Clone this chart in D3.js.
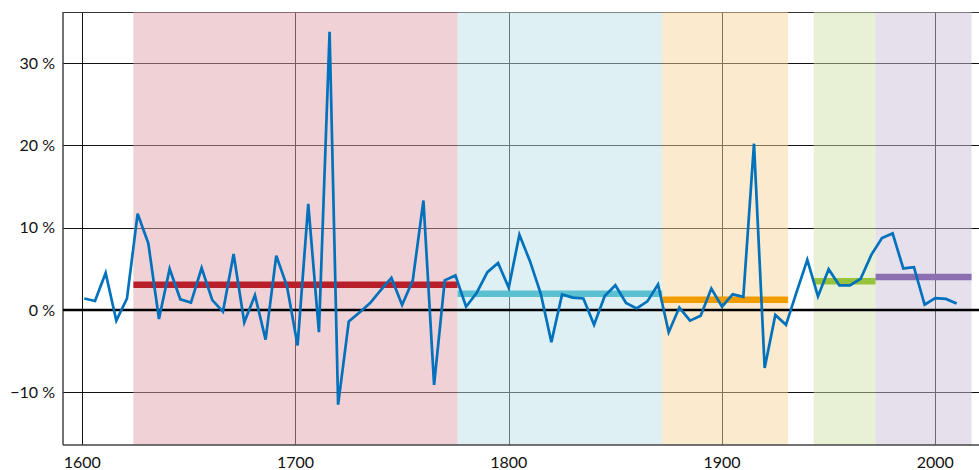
<!DOCTYPE html>
<html>
<head>
<meta charset="utf-8">
<script src="https://cdn.jsdelivr.net/npm/d3@7"></script>
<style>
  html, body { margin: 0; padding: 0; background: #fff; }
  svg { display: block; font-family: Lato, "Open Sans", sans-serif; }
</style>
</head>
<body>
<svg width="979" height="470"></svg>
<script>
// years of the data points (roughly every 5 years)
var years = [1601, 1606, 1611, 1616, 1621, 1626, 1631, 1636, 1641, 1646,
  1651, 1656, 1661, 1666, 1671, 1676, 1681, 1686, 1691, 1696,
  1701, 1706, 1711, 1716, 1720, 1725, 1730, 1735, 1740, 1745,
  1750, 1755, 1760, 1765, 1770, 1775, 1780, 1785, 1790, 1795,
  1800, 1805, 1810, 1815, 1820, 1825, 1830, 1835, 1840, 1845,
  1850, 1855, 1860, 1865, 1870, 1875, 1880, 1885, 1890, 1895,
  1900, 1905, 1910, 1915, 1920, 1925, 1930, 1935, 1940, 1945,
  1950, 1955, 1960, 1965, 1970, 1975, 1980, 1985, 1990, 1995,
  2000, 2005, 2010];

// growth rate in %
var values = [1.4, 1.1, 4.5, -1.3, 1.4, 11.7, 8.1, -1.1, 5.0, 1.3,
  0.9, 5.1, 1.2, -0.2, 6.8, -1.5, 1.8, -3.6, 6.6, 2.9,
  -4.3, 12.9, -2.7, 33.8, -11.5, -1.4, -0.3, 0.85, 2.4, 3.9,
  0.6, 3.6, 13.3, -9.1, 3.6, 4.2, 0.4, 2.1, 4.6, 5.7,
  2.7, 9.15, 5.9, 2.0, -3.9, 1.9, 1.5, 1.4, -1.8, 1.7,
  3.0, 0.85, 0.2, 1.05, 3.1, -2.7, 0.3, -1.3, -0.7, 2.6,
  0.4, 1.9, 1.6, 20.2, -7.05, -0.6, -1.8, 2.2, 6.1, 1.65,
  4.95, 3.0, 3.0, 3.8, 6.7, 8.75, 9.3, 5.05, 5.2, 0.65,
  1.45, 1.35, 0.8];

// shaded periods and their average
var bandStart = [1624, 1776, 1872, 1943, 1972];
var bandEnd   = [1776, 1872, 1931, 1972, 2017];
var bandMean  = [3.07, 1.98, 1.25, 3.48, 4.0];
var bandFill  = ["rgb(225,165,173)", "rgb(189,225,233)", "rgb(247,213,155)", "rgb(209,227,173)", "rgb(205,193,219)"];
var bandLine  = ["#b81f2b", "#5bc0d0", "#f39c00", "#97c23c", "#8c6fb0"];

var xTicks = [1600, 1700, 1800, 1900, 2000];
var yTicks = [-10, 0, 10, 20, 30];

var svg = d3.select("svg"),
    plotLeft = 63, plotRight = 979, plotTop = 12, plotBottom = 445;

var x = d3.scaleLinear().domain([1591, 2020.5]).range([plotLeft, plotRight]);
var y = d3.scaleLinear().domain([-16.4, 36.2]).range([plotBottom, plotTop]);

// grid
svg.append("g").selectAll("line")
  .data(yTicks.filter(function(d) { return d !== 0; }))
  .enter().append("line")
    .attr("x1", plotLeft).attr("x2", plotRight)
    .attr("y1", function(d) { return Math.round(y(d)) + 0.5; })
    .attr("y2", function(d) { return Math.round(y(d)) + 0.5; })
    .attr("stroke", "#111").attr("stroke-width", 1);

svg.append("g").selectAll("line")
  .data(xTicks)
  .enter().append("line")
    .attr("x1", function(d) { return Math.round(x(d)) + 0.5; })
    .attr("x2", function(d) { return Math.round(x(d)) + 0.5; })
    .attr("y1", plotTop).attr("y2", plotBottom)
    .attr("stroke", "#111").attr("stroke-width", 1);

// top border
svg.append("line")
  .attr("x1", plotLeft).attr("x2", plotRight)
  .attr("y1", plotTop + 0.5).attr("y2", plotTop + 0.5)
  .attr("stroke", "#333").attr("stroke-width", 1.2);

// period bands (semi transparent, so the grid shows through tinted)
svg.append("g").selectAll("rect")
  .data(bandStart)
  .enter().append("rect")
    .attr("x", function(d) { return x(d); })
    .attr("width", function(d, i) { return x(bandEnd[i]) - x(d); })
    .attr("y", plotTop).attr("height", plotBottom - plotTop)
    .attr("fill", function(d, i) { return bandFill[i]; })
    .attr("fill-opacity", 0.5);

// axes frame
svg.append("line")
  .attr("x1", plotLeft).attr("x2", plotLeft)
  .attr("y1", plotTop).attr("y2", plotBottom)
  .attr("stroke", "#444").attr("stroke-width", 1.5);
svg.append("line")
  .attr("x1", plotLeft).attr("x2", plotRight)
  .attr("y1", plotBottom).attr("y2", plotBottom)
  .attr("stroke", "#444").attr("stroke-width", 1.5);

// zero line
svg.append("line")
  .attr("x1", plotLeft).attr("x2", plotRight)
  .attr("y1", y(0)).attr("y2", y(0))
  .attr("stroke", "#000").attr("stroke-width", 2.4);

// period averages
svg.append("g").selectAll("line")
  .data(bandMean)
  .enter().append("line")
    .attr("x1", function(d, i) { return x(bandStart[i]); })
    .attr("x2", function(d, i) { return x(bandEnd[i]); })
    .attr("y1", function(d) { return y(d); })
    .attr("y2", function(d) { return y(d); })
    .attr("stroke", function(d, i) { return bandLine[i]; })
    .attr("stroke-width", 6.5);

// data line
var line = d3.line()
  .x(function(d, i) { return x(years[i]); })
  .y(function(d) { return y(d); });

svg.append("path")
  .datum(values)
  .attr("d", line)
  .attr("fill", "none")
  .attr("stroke", "#0071bc")
  .attr("stroke-width", 2.7);

// tick labels
svg.append("g").selectAll("text")
  .data(yTicks)
  .enter().append("text")
    .attr("x", 55)
    .attr("y", function(d) { return y(d); })
    .attr("dy", "0.36em")
    .attr("text-anchor", "end")
    .attr("font-size", 16)
    .attr("fill", "#111")
    .text(function(d) { return (d < 0 ? "\u2212" + (-d) : d) + " %"; });

svg.append("g").selectAll("text")
  .data(xTicks)
  .enter().append("text")
    .attr("x", function(d) { return x(d); })
    .attr("y", 468)
    .attr("text-anchor", "middle")
    .attr("font-size", 16)
    .attr("fill", "#111")
    .text(function(d) { return d; });
</script>
</body>
</html>
